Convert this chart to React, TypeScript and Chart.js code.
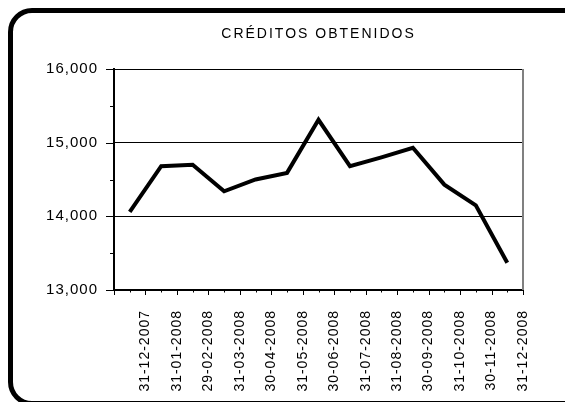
import React, { useEffect, useRef } from "react";
import { Chart, registerables } from "chart.js";

Chart.register(...registerables);

const title = "CRÉDITOS OBTENIDOS";
const categories = [
  "31-12-2007", "31-01-2008", "29-02-2008", "31-03-2008", "30-04-2008",
  "31-05-2008", "30-06-2008", "31-07-2008", "31-08-2008", "30-09-2008",
  "31-10-2008", "30-11-2008", "31-12-2008",
];
const creditos = [14060, 14680, 14700, 14340, 14500, 14590, 15310, 14680, 14800, 14930, 14430, 14150, 13370];
const yMin = 13000;
const yMax = 16000;
const yStep = 1000;

const FONT = "'Liberation Sans', Arial, sans-serif";

const spacingPlugin = {
  id: "spacing",
  beforeUpdate(chart: any) {
    chart.ctx.letterSpacing = "1px";
  },
};

const decorPlugin = {
  id: "decor",
  afterDraw(chart: any) {
    const { ctx, chartArea, scales } = chart;
    const x = scales.x;
    const y = scales.y;
    ctx.save();
    ctx.strokeStyle = "#000";
    ctx.lineWidth = 1;
    for (let i = 0; i <= categories.length * 2; i++) {
      const v = i / 2;
      const px = Math.round(x.getPixelForValue(v)) + 0.5;
      const len = i % 2 === 0 ? 5 : 2.5;
      ctx.beginPath();
      ctx.moveTo(px, chartArea.bottom);
      ctx.lineTo(px, chartArea.bottom + len);
      ctx.stroke();
    }
    for (let v = yMin; v <= yMax; v += yStep / 2) {
      const py = Math.round(y.getPixelForValue(v)) + 0.5;
      const len = (v - yMin) % yStep === 0 ? 8 : 4;
      ctx.beginPath();
      ctx.moveTo(chartArea.left - len, py);
      ctx.lineTo(chartArea.left, py);
      ctx.stroke();
    }
    ctx.strokeStyle = "#808080";
    ctx.lineWidth = 2;
    ctx.beginPath();
    ctx.moveTo(chartArea.right, chartArea.top);
    ctx.lineTo(chartArea.right, chartArea.bottom);
    ctx.stroke();
    ctx.fillStyle = "#000";
    ctx.font = `14px ${FONT}`;
    ctx.letterSpacing = "2px";
    ctx.textAlign = "center";
    ctx.textBaseline = "middle";
    ctx.fillText(title, (chartArea.left + chartArea.right) / 2, 26);
    ctx.restore();
  },
};

export default function App() {
  const ref = useRef<HTMLCanvasElement | null>(null);
  useEffect(() => {
    document.body.style.overflow = "hidden";
    if (!ref.current) return;
    const points = creditos.map((v, i) => ({ x: i + 0.5, y: v }));
    const chart = new Chart(ref.current, {
      type: "line",
      data: {
        datasets: [
          {
            data: points,
            borderColor: "#000",
            borderWidth: 4,
            pointRadius: 0,
            tension: 0,
            fill: false,
          },
        ],
      },
      options: {
        animation: false,
        responsive: false,
        layout: { padding: { top: 61, right: 50, left: 0, bottom: 0 } },
        plugins: { legend: { display: false }, tooltip: { enabled: false }, title: { display: false } },
        scales: {
          x: {
            type: "linear",
            min: 0,
            max: categories.length,
            afterFit: (s: any) => {
              s.height = 112;
            },
            grid: { display: false, drawTicks: false },
            border: { display: true, color: "#000", width: 2 },
            ticks: {
              stepSize: 1,
              autoSkip: false,
              maxRotation: 90,
              minRotation: 90,
              padding: 20,
              color: "#000",
              font: { family: FONT, size: 14 },
              callback: (v: any) => categories[Number(v) - 1] ?? "",
            },
          },
          y: {
            min: yMin,
            max: yMax,
            afterFit: (s: any) => {
              s.width = 106;
            },
            grid: {
              color: "#000",
              lineWidth: 1,
              drawTicks: false,
            },
            border: { display: true, color: "#000", width: 2 },
            ticks: {
              stepSize: yStep,
              padding: 16,
              color: "#000",
              font: { family: FONT, size: 15 },
              callback: (v: any) => Number(v).toLocaleString("en-US"),
            },
          },
        },
      },
      plugins: [spacingPlugin, decorPlugin],
    });
    return () => chart.destroy();
  }, []);
  return (
    <div style={{ position: "relative", width: 565, height: 394, overflow: "hidden" }}>
      <div
        style={{
          position: "absolute",
          left: 0,
          top: 0,
          width: 582,
          height: 398,
          border: "5px solid #000",
          borderRadius: 24,
          boxSizing: "border-box",
        }}
      />
      <canvas ref={ref} width={565} height={394} style={{ position: "absolute", left: 0, top: 0 }} />
    </div>
  );
}
